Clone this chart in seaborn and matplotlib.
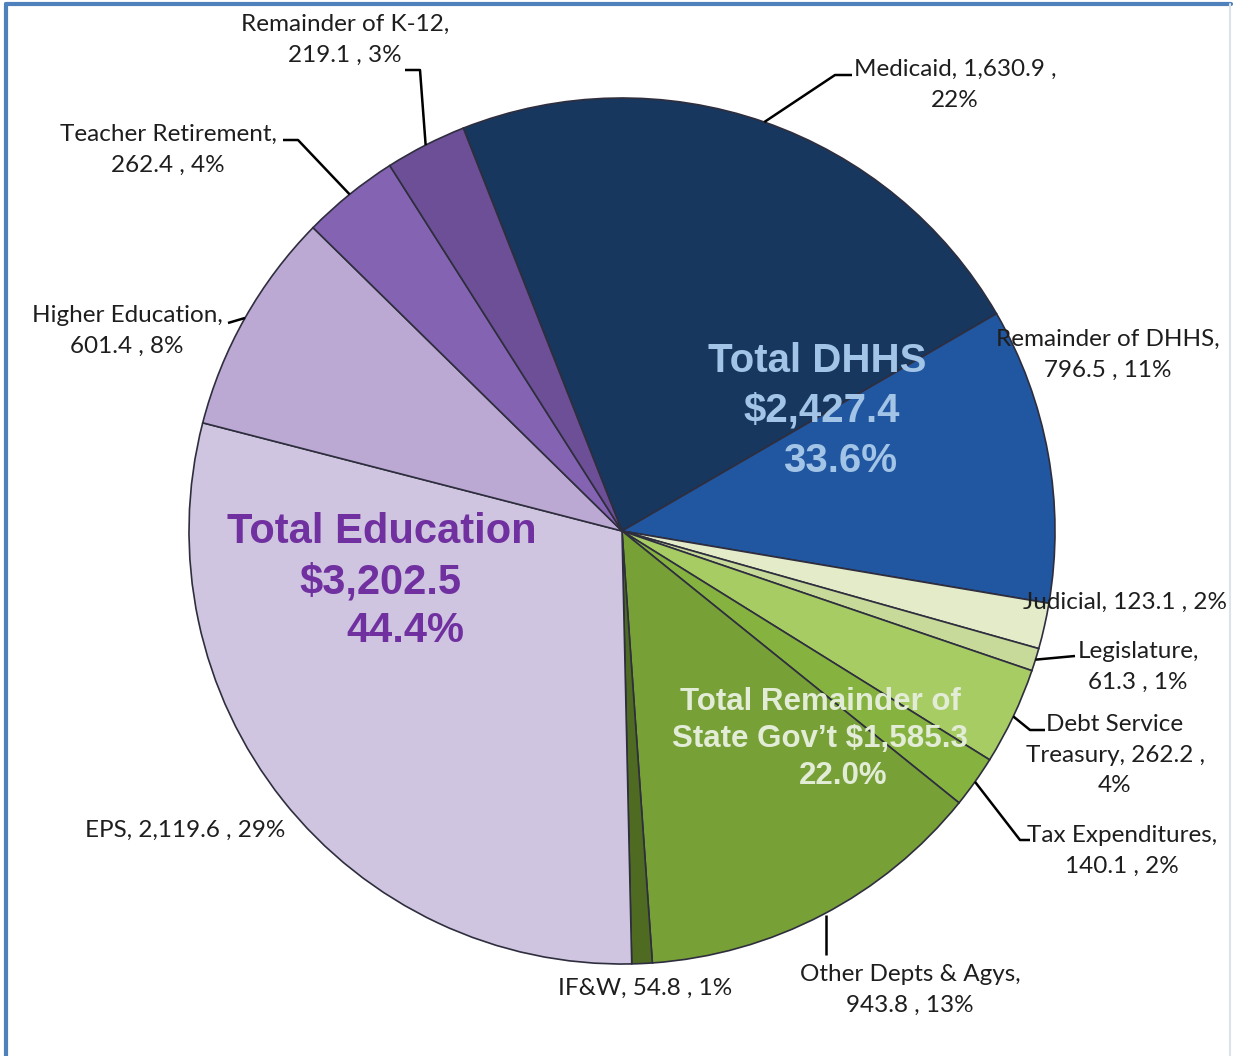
import numpy as np
import matplotlib
matplotlib.use('Agg')
import matplotlib.pyplot as plt
import seaborn as sns

sns.set_style('white')
plt.rcParams['font.family'] = ['Lato', 'DejaVu Sans']

# General Fund budget by area ($ millions)
names = ['Medicaid', 'Remainder of DHHS', 'Judicial', 'Legislature',
         'Debt Service Treasury', 'Tax Expenditures', 'Other Depts & Agys',
         'IF&W', 'EPS', 'Higher Education', 'Teacher Retirement',
         'Remainder of K-12']
values = [1630.9, 796.5, 123.1, 61.3, 262.2, 140.1, 943.8, 54.8,
          2119.6, 601.4, 262.4, 219.1]
label_text = ['Medicaid, 1,630.9 ,\n22%', 'Remainder of DHHS,\n796.5 , 11%',
              'Judicial, 123.1 , 2%', 'Legislature,\n61.3 , 1%',
              'Debt Service\nTreasury, 262.2 ,\n4%', 'Tax Expenditures,\n140.1 , 2%',
              'Other Depts & Agys,\n943.8 , 13%', 'IF&W, 54.8 , 1%',
              'EPS, 2,119.6 , 29%', 'Higher Education,\n601.4 , 8%',
              'Teacher Retirement,\n262.4 , 4%', 'Remainder of K-12,\n219.1 , 3%']
colors = ['#17375e', '#2156a0', '#e4ebc9', '#c8da9a', '#a8cc64', '#86b33f',
          '#77a037', '#4f6b22', '#d0c5e0', '#bba9d3', '#8563b3', '#6c4f97']

groups = ['Total DHHS\n$2,427.4\n33.6%', 'Total Education\n$3,202.5\n44.4%',
          'Total Remainder of\nState Gov\u2019t $1,585.3\n22.0%']

W, H = 1235, 1056


def P(x, y):
    # pixel position (top-left origin) -> data coords
    return x, H - y


fig = plt.figure(figsize=(12.35, 10.56), dpi=100)
ax = fig.add_axes([0, 0, 1, 1])

cx, cy = P(622, 531)
R = 433
wedges, _ = ax.pie(values, colors=colors, startangle=111.5, counterclock=False,
                   center=(cx, cy), radius=R, frame=True,
                   wedgeprops=dict(edgecolor='#2e2e3e', linewidth=1.2))
ax.set_xlim(0, W)
ax.set_ylim(0, H)
ax.set_aspect('equal')
ax.axis('off')

# label placement: text centre and leader elbow points (pixels)
text_pos = {
    'Medicaid': (955, 85), 'Remainder of DHHS': (1108, 355),
    'Judicial': (1125, 602), 'Legislature': (1138, 667),
    'Debt Service Treasury': (1115, 755), 'Tax Expenditures': (1122, 851),
    'Other Depts & Agys': (910, 990), 'IF&W': (645, 988),
    'EPS': (185, 830), 'Higher Education': (127, 331),
    'Teacher Retirement': (168, 150), 'Remainder of K-12': (345, 40),
}
leaders = {
    'Medicaid': [(835, 75), (852, 75)],
    'Legislature': [(1075, 656)],
    'Debt Service Treasury': [(1030, 730), (1045, 730)],
    'Tax Expenditures': [(1020, 840), (1030, 840)],
    'Other Depts & Agys': [(826, 955)],
    'Higher Education': [(228, 323)],
    'Teacher Retirement': [(298, 140), (283, 140)],
    'Remainder of K-12': [(420, 70), (405, 70)],
}

for w, name, txt in zip(wedges, names, label_text):
    tx, ty = P(*text_pos[name])
    ax.text(tx, ty, txt, ha='center', va='center', fontsize=17.5,
            color='#1e1e1e', linespacing=1.55)
    if name in leaders:
        mid = np.deg2rad((w.theta1 + w.theta2) / 2)
        xs = [cx + R * np.cos(mid)]
        ys = [cy + R * np.sin(mid)]
        for px, py in leaders[name]:
            xs.append(px)
            ys.append(H - py)
        if name == 'Other Depts & Agys':
            xs[0] = xs[1]
        ax.plot(xs, ys, color='black', lw=1.8, solid_capstyle='butt')

# group totals
big = dict(family=['Liberation Sans', 'DejaVu Sans'], fontweight='bold')
dhhs = groups[0].split('\n')
for line, (x, y) in zip(dhhs, [(817, 361), (822, 410), (840, 461)]):
    ax.text(*P(x, y), line, ha='center', va='center', fontsize=29,
            color='#a2c4e6', **big)
edu = groups[1].split('\n')
for line, (x, y) in zip(edu, [(382, 532), (380, 582), (405, 631)]):
    ax.text(*P(x, y), line, ha='center', va='center', fontsize=30,
            color='#7030a0', **big)
rest = groups[2].split('\n')
for line, (x, y) in zip(rest, [(820, 702), (820, 739), (843, 776)]):
    ax.text(*P(x, y), line, ha='center', va='center', fontsize=22.5,
            color='#e2ecd6', **big)

# frame on the picture edges
ax.plot([6, 6], [0, H - 4], color='#4f81bd', lw=3)
ax.plot([6, W - 4], [H - 4, H - 4], color='#4f81bd', lw=3)
ax.plot([W - 5, W - 5], [0, H - 4], color='#dde3ec', lw=1.5)

fig.savefig('out.png', dpi=100, facecolor='white')
